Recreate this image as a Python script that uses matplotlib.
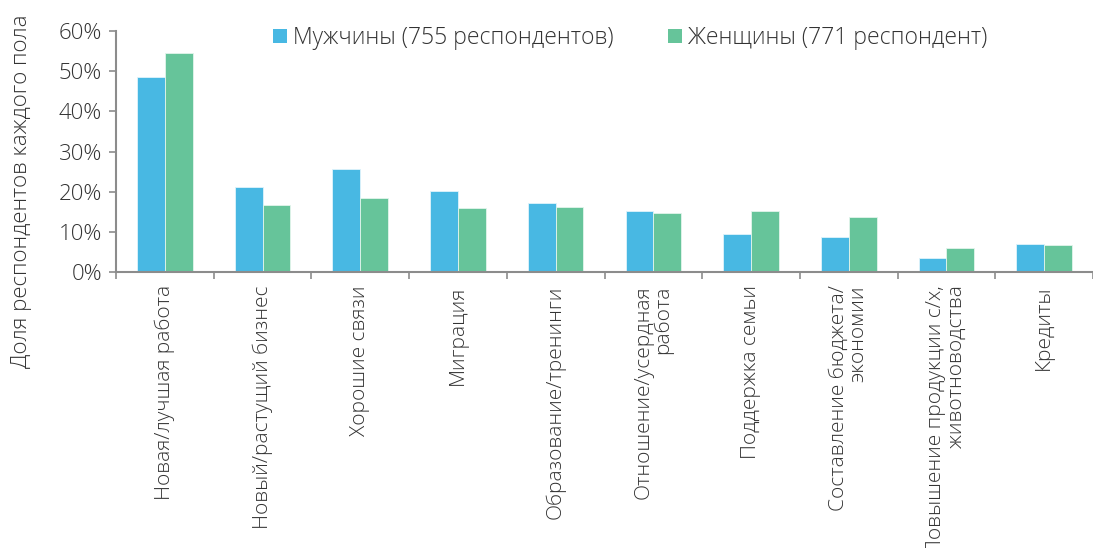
import numpy as np
import matplotlib
matplotlib.use('Agg')
import matplotlib.pyplot as plt
from matplotlib.ticker import PercentFormatter

plt.rcParams['font.family'] = ['Open Sans', 'DejaVu Sans']

categories = [
    'Новая/лучшая работа',
    'Новый/растущий бизнес',
    'Хорошие связи',
    'Миграция',
    'Образование/тренинги',
    'Отношение/усердная\nработа',
    'Поддержка семьи',
    'Составление бюджета/\nэкономии',
    'Повышение продукции с/х,\nживотноводства',
    'Кредиты',
]
men = [48.6, 21.1, 25.6, 20.1, 17.2, 15.2, 9.5, 8.8, 3.5, 7.0]
women = [54.4, 16.8, 18.4, 16.0, 16.2, 14.7, 15.3, 13.7, 6.0, 6.8]
series_labels = ['Мужчины (755 респондентов)', 'Женщины (771 респондент)']

BLUE = '#48b8e3'
GREEN = '#66c49a'
GREY = '#8c8c8c'
TEXT = '#333333'

W, H = 1093, 548
fig = plt.figure(figsize=(W / 100, H / 100), dpi=100)
ax = fig.add_axes([116 / W, 1 - 272 / H, 977 / W, 241 / H])

x = np.arange(len(categories))
bw = 0.285
ax.bar(x - bw / 2, men, bw, color=BLUE, edgecolor='#dff3fb', linewidth=0.6,
       label=series_labels[0])
ax.bar(x + bw / 2, women, bw, color=GREEN, edgecolor='#e2f5ec', linewidth=0.6,
       label=series_labels[1])

ax.set_ylim(0, 60)
ax.set_xlim(-0.5, len(categories) - 0.5 - 0.09)
ax.set_yticks(np.arange(0, 61, 10))
ax.yaxis.set_major_formatter(PercentFormatter(decimals=0))
ax.set_xticks(np.arange(len(categories) + 1) - 0.5)
ax.set_xticklabels([])
ax.tick_params(axis='x', length=5, color=GREY, width=1.2, direction='out')
ax.tick_params(axis='y', length=5, color=GREY, width=1.2, labelsize=16,
               labelcolor=TEXT, pad=5)
for lab in ax.get_yticklabels():
    lab.set_fontweight('light')

for s in ['top', 'right']:
    ax.spines[s].set_visible(False)
for s in ['left', 'bottom']:
    ax.spines[s].set_color(GREY)
    ax.spines[s].set_linewidth(1.5)

for i, c in enumerate(categories):
    ax.text(i, -3.3, c, rotation=90, ha='center', va='top', multialignment='right',
            fontsize=15, color=TEXT, fontweight='light', linespacing=1.0)

fig.text(22 / W, 1 - 191 / H, 'Доля респондентов каждого пола', rotation=90,
         ha='center', va='center', fontsize=16, color=TEXT, fontweight='light')

leg = fig.legend(loc='center', bbox_to_anchor=(630 / W, 1 - 38 / H), ncol=2,
                 frameon=False, fontsize=16.5, handlelength=0.6, handleheight=0.6,
                 handletextpad=0.25, columnspacing=2.4)
for t in leg.get_texts():
    t.set_color(TEXT)
    t.set_fontweight('light')
for h in leg.legend_handles:
    h.set_linewidth(0)

fig.savefig('out.png', dpi=100)
